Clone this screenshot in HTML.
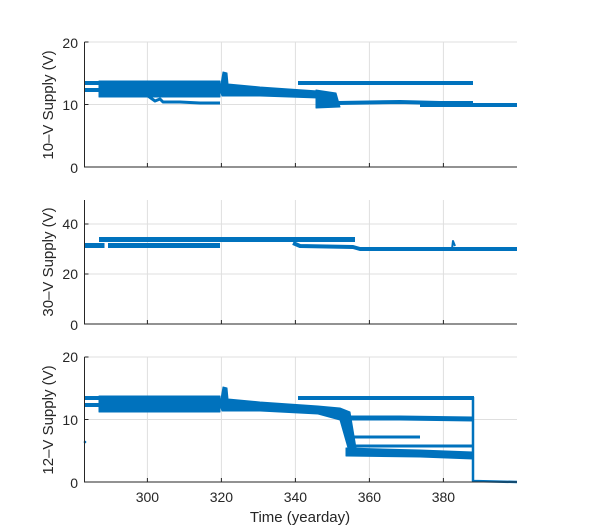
<!DOCTYPE html><html><head><style>body{margin:0;background:#fff}svg{display:block}text{font-family:"Liberation Sans",sans-serif;font-size:14px;fill:#262626}</style></head><body>
<svg width="600" height="525" xmlns="http://www.w3.org/2000/svg">
<g stroke="#dfdfdf" stroke-width="1">
<line x1="147.4" y1="42" x2="147.4" y2="167"/><line x1="221.4" y1="42" x2="221.4" y2="167"/><line x1="295.4" y1="42" x2="295.4" y2="167"/><line x1="369.4" y1="42" x2="369.4" y2="167"/><line x1="443.4" y1="42" x2="443.4" y2="167"/>
<line x1="84.5" y1="42" x2="517" y2="42"/><line x1="84.5" y1="104.5" x2="517" y2="104.5"/>
<line x1="147.4" y1="200" x2="147.4" y2="324"/><line x1="221.4" y1="200" x2="221.4" y2="324"/><line x1="295.4" y1="200" x2="295.4" y2="324"/><line x1="369.4" y1="200" x2="369.4" y2="324"/><line x1="443.4" y1="200" x2="443.4" y2="324"/>
<line x1="84.5" y1="224" x2="517" y2="224"/><line x1="84.5" y1="274" x2="517" y2="274"/>
<line x1="147.4" y1="357" x2="147.4" y2="482"/><line x1="221.4" y1="357" x2="221.4" y2="482"/><line x1="295.4" y1="357" x2="295.4" y2="482"/><line x1="369.4" y1="357" x2="369.4" y2="482"/><line x1="443.4" y1="357" x2="443.4" y2="482"/>
<line x1="84.5" y1="357" x2="517" y2="357"/><line x1="84.5" y1="419.5" x2="517" y2="419.5"/>
</g>
<g fill="#0072BD" stroke="#0072BD" stroke-linejoin="round">
<!-- top panel -->
<rect x="84.5" y="81" width="16" height="4" stroke="none"/><rect x="84.5" y="88" width="16" height="4" stroke="none"/>
<polygon points="99,81 220,81 220,97 99,97" />
<polyline fill="none" stroke-width="3" points="142,93 148,96 155,101 160,99 163,102 180,102 200,103 220,103"/>
<polygon points="220,90 223,72 227,73 228,84 260,87 318,91 318,98 260,96 222,96" />
<polygon points="316,90 336,93 340,107 316,108"/>
<rect x="298" y="81" width="175" height="4" stroke="none"/>
<polyline fill="none" stroke-width="4" points="338,103 400,102 440,103 473,103"/>
<polyline fill="none" stroke-width="4" points="420,105 517,105"/>
<!-- middle panel -->
<rect x="84.5" y="243" width="20" height="5" stroke="none"/>
<rect x="99" y="237" width="256" height="5" stroke="none"/>
<rect x="108" y="243" width="112" height="5" stroke="none"/>
<polyline fill="none" stroke-width="4" points="293,243 300,246 353,247 360,249 517,249"/>
<polyline fill="none" stroke-width="2" points="452,249 453,241 455,246"/>
<!-- bottom panel -->
<rect x="84.5" y="396" width="16" height="4" stroke="none"/><rect x="84.5" y="403" width="16" height="4" stroke="none"/>
<polygon points="99,396 220,396 220,412 99,412" />
<polygon points="220,405 223,387 227,388 228,399 260,402 318,406 340,408 350,412 356,448 348,448 340,420 318,414 260,411 222,411"/>
<rect x="298" y="396" width="176" height="4" stroke="none"/>
<polyline fill="none" stroke-width="5" points="350,418 400,418 473,419"/>
<polyline fill="none" stroke-width="3" points="352,437 420,437"/>
<polyline fill="none" stroke-width="3" points="355,446 473,446"/>
<polygon points="346,448 420,450 473,452 473,459 420,457 346,456"/>
<polyline fill="none" stroke-width="2.5" points="473,397 473,481 517,482"/>
<circle cx="85" cy="442" r="1.3" stroke="none"/>
</g>
<g stroke="#262626" stroke-width="1" fill="none">
<polyline points="84.5,42 84.5,167 517,167"/>
<polyline points="84.5,200 84.5,324 517,324"/>
<polyline points="84.5,357 84.5,482 517,482"/>
<path d="M147.4,167v-4M221.4,167v-4M295.4,167v-4M369.4,167v-4M443.4,167v-4M84.5,104.5h4M84.5,42h4"/>
<path d="M147.4,324v-4M221.4,324v-4M295.4,324v-4M369.4,324v-4M443.4,324v-4M84.5,224h4M84.5,274h4"/>
<path d="M147.4,482v-4M221.4,482v-4M295.4,482v-4M369.4,482v-4M443.4,482v-4M84.5,419.5h4M84.5,357h4"/>
</g>
<g text-anchor="end">
<text x="78" y="48">20</text><text x="78" y="110">10</text><text x="78" y="173">0</text>
<text x="78" y="229">40</text><text x="78" y="279">20</text><text x="78" y="330">0</text>
<text x="78" y="362">20</text><text x="78" y="425">10</text><text x="78" y="488">0</text>
</g>
<g text-anchor="middle">
<text x="147.4" y="502">300</text><text x="221.4" y="502">320</text><text x="295.4" y="502">340</text><text x="369.4" y="502">360</text><text x="443.4" y="502">380</text>
<text x="300" y="522" style="font-size:15px">Time (yearday)</text>
<text transform="translate(53,105) rotate(-90)" style="font-size:15px">10–V Supply (V)</text>
<text transform="translate(53,262) rotate(-90)" style="font-size:15px">30–V Supply (V)</text>
<text transform="translate(53,420) rotate(-90)" style="font-size:15px">12–V Supply (V)</text>
</g>
</svg></body></html>
